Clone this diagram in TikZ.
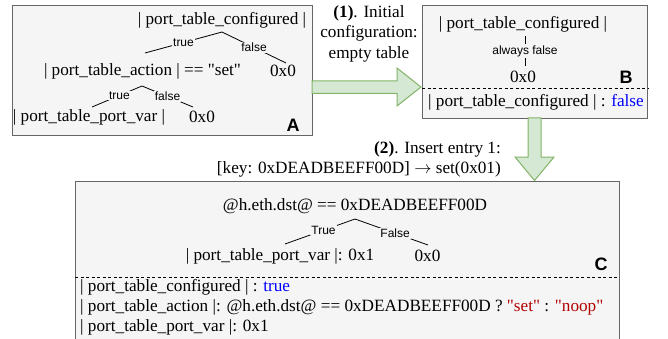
\documentclass[tikz,border=0pt]{standalone}
\usepackage{fontspec}
\setmainfont{Liberation Serif}[Ligatures=TeXOff]
\newfontfamily\lsans{Liberation Sans}
\definecolor{boxfill}{HTML}{F5F5F5}
\definecolor{boxline}{HTML}{666666}
\definecolor{arrfill}{HTML}{D5E8D4}
\definecolor{arrline}{HTML}{82B366}
\definecolor{kwblue}{HTML}{0000FF}
\definecolor{strred}{HTML}{B20000}
\begin{document}
\begin{tikzpicture}[x=1pt,y=-1pt,
  panel/.style={draw=boxline, fill=boxfill, line width=0.8pt, inner sep=0pt, anchor=north west},
  txt/.style={inner sep=0pt, font=\fontsize{17.2}{20.5}\selectfont},
  elbl/.style={fill=boxfill, inner sep=1pt, font=\lsans\fontsize{12}{13}\selectfont},
  tag/.style={inner sep=0pt, font=\lsans\bfseries\fontsize{18}{20}\selectfont},
  tedge/.style={line width=0.8pt, draw=black},
  sep/.style={line width=0.8pt, dash pattern=on 3pt off 2.5pt},
  fat/.style={draw=arrline, fill=arrfill, line width=1pt}]
\useasboundingbox (0,0) rectangle (668,339);

% ---------- panels ----------
\node[panel, minimum width=300pt, minimum height=130pt] (A) at (12,5) {};
\node[panel, minimum width=225pt, minimum height=113pt] (B) at (422,5) {};
\node[fill=boxfill, inner sep=0pt, anchor=north west, minimum width=544pt, minimum height=162pt] (C) at (75,181) {};
\draw[draw=boxline, line width=0.8pt] (C.south west) -- (C.north west) -- (C.north east) -- (C.south east);

% ---------- fat arrows ----------
\draw[fat] (312,81) -- (397,81) -- (397,68) -- (421,87) -- (397,106) -- (397,93.5) -- (312,93.5) -- cycle;
\draw[fat] (528,118) -- (528,157) -- (515,157) -- (534.5,180.5) -- (554,157) -- (541,157) -- (541,118) -- cycle;

% ---------- panel A ----------
\node[txt] (a1) at (222,20) {| port\_table\_configured |};
\node[txt] (a2) at (142.5,71) {| port\_table\_action | == "set"};
\node[txt] (a3) at (283,71) {0x0};
\node[txt] (a4) at (89,117) {| port\_table\_port\_var |};
\node[txt] (a5) at (202,117) {0x0};
\node[tag] (tA) at (293,125) {A};
\coordinate (apA1) at (222,32);
\coordinate (lA1) at (145,53);
\coordinate (rA1) at (286,63);
\coordinate (apA2) at (142,86);
\coordinate (lA2) at (92,107);
\coordinate (rA2) at (193,107);
\draw[tedge] (apA1) -- node[elbl]{true} (lA1);
\draw[tedge] (apA1) -- node[elbl]{false} (rA1);
\draw[tedge] (apA2) -- node[elbl, pos=0.45]{true} (lA2);
\draw[tedge] (apA2) -- node[elbl]{false} (rA2);

% ---------- annotation 1 ----------
\node[txt, align=center] (n1) at (369,33.5) {\textbf{(1)}. Initial\\configuration:\\empty table};

% ---------- panel B ----------
\node[txt] (b1) at (523,24) {| port\_table\_configured |};
\node[txt] (b2) at (523,77) {0x0};
\node[tag] (tB) at (626,77) {B};
\coordinate (bt) at (525,36);
\coordinate (bb) at (525,66);
\draw[tedge] (bt) -- node[elbl]{always false} (bb);
\draw[sep] (B.west |- 0,88) -- (B.east |- 0,88);
\node[txt, anchor=west] (b3) at (428,102) {| port\_table\_configured | : \textcolor{kwblue}{false}};

% ---------- annotation 2 ----------
\node[txt, align=right, anchor=east] (n2) at (501,159.5) {\textbf{(2)}. Insert entry 1:\\{[}key: 0xDEADBEEFF00D{]} $\rightarrow$ set(0x01)};

% ---------- panel C ----------
\node[txt] (c1) at (355,206) {@h.eth.dst@ == 0xDEADBEEFF00D};
\node[txt] (c2) at (280,256) {| port\_table\_port\_var |: 0x1};
\node[txt] (c3) at (427.5,256) {0x0};
\node[tag] (tC) at (601,264) {C};
\coordinate (apC) at (355,219);
\coordinate (lC) at (285,244);
\coordinate (rC) at (428,245);
\draw[tedge] (apC) -- node[elbl, pos=0.45]{True} (lC);
\draw[tedge] (apC) -- node[elbl, pos=0.55]{False} (rC);
\draw[sep] (C.west |- 0,277) -- (C.east |- 0,277);
\node[txt, anchor=west] (c4) at (80,287) {| port\_table\_configured | : \textcolor{kwblue}{true}};
\node[txt, anchor=west] (c5) at (80,307) {| port\_table\_action |: @h.eth.dst@ == 0xDEADBEEFF00D ? \textcolor{strred}{"set"} : \textcolor{strred}{"noop"}};
\node[txt, anchor=west] (c6) at (80,327) {| port\_table\_port\_var |: 0x1};
\end{tikzpicture}
\end{document}
